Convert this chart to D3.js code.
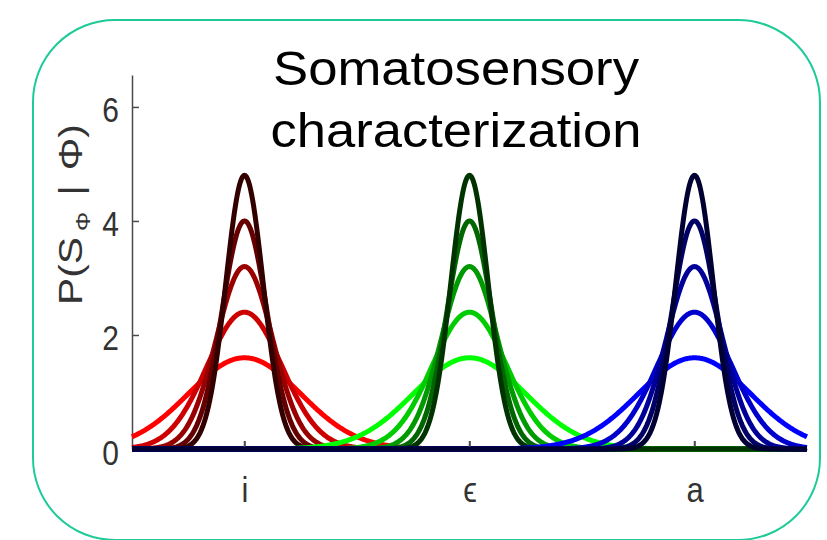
<!DOCTYPE html>
<html>
<head>
<meta charset="utf-8">
<script src="https://cdn.jsdelivr.net/npm/d3@7"></script>
<style>
  html, body { margin: 0; padding: 0; background: #ffffff; }
  svg { display: block; }
</style>
</head>
<body>
<svg id="chart" width="827" height="540"></svg>
<script>
// ---------------- data ----------------
const categories = ["i", "ϵ", "a"];
const categoryPositions = [1, 2, 3];
// peak heights of the five likelihood curves per category (light -> dark)
const peakHeights = [1.6, 2.4, 3.2, 4.0, 4.8];
const yTicks = [0, 2, 4, 6];
const titleLines = ["Somatosensory", "characterization"];

// ---------------- styles ----------------
const palettes = [
  ["#ff0000", "#cc0000", "#990000", "#660000", "#330000"],
  ["#00ff00", "#00cc00", "#009900", "#006600", "#003300"],
  ["#0000ff", "#0000cc", "#000099", "#000066", "#000033"]
];
const FONT = "'Liberation Sans', Arial, 'DejaVu Sans', sans-serif";

const svg = d3.select("#chart");

// rounded frame
svg.append("rect")
  .attr("x", 33).attr("y", 20)
  .attr("width", 787).attr("height", 520)
  .attr("rx", 82).attr("ry", 82)
  .attr("fill", "none")
  .attr("stroke", "#1ecb98")
  .attr("stroke-width", 2);

// title
svg.append("g").selectAll("text")
  .data(titleLines)
  .join("text")
  .attr("x", 456)
  .attr("y", (d, i) => 85 + i * 62)
  .attr("text-anchor", "middle")
  .attr("font-family", FONT)
  .attr("font-size", 49)
  .attr("fill", "#000")
  .attr("textLength", (d, i) => i === 0 ? 366 : 371)
  .attr("lengthAdjust", "spacingAndGlyphs")
  .text(d => d);

// scales
const x = d3.scaleLinear().domain([0.5, 3.5]).range([132, 807]);
const y = d3.scaleLinear().domain([0, 6.56]).range([449, 75]);

// axes
const axisColor = "#4a4a4a";
const textColor = "#333333";

const yAxis = d3.axisLeft(y)
  .tickValues(yTicks)
  .tickSize(-7)
  .tickSizeOuter(0)
  .tickFormat(d3.format("d"));

const gy = svg.append("g")
  .attr("transform", `translate(${x.range()[0]},0)`)
  .call(yAxis);
gy.select(".domain").attr("stroke", axisColor).attr("stroke-width", 1.5);
gy.selectAll(".tick line").attr("stroke", axisColor).attr("stroke-width", 1.5);
gy.selectAll(".tick text")
  .attr("x", 0).attr("dy", null).attr("y", 0)
  .attr("transform", "translate(-13,15) scale(1,1.15)")
  .attr("text-anchor", "end")
  .attr("font-family", FONT)
  .attr("font-size", 30)
  .attr("fill", textColor);

const xAxis = d3.axisBottom(x)
  .tickValues(categoryPositions)
  .tickFormat((d, i) => categories[i])
  .tickSize(-8)
  .tickSizeOuter(0);

const gx = svg.append("g")
  .attr("transform", `translate(0,${y(0)})`)
  .call(xAxis);
gx.select(".domain").attr("stroke", axisColor).attr("stroke-width", 1.5);
gx.selectAll(".tick line").attr("stroke", axisColor).attr("stroke-width", 1.5);
gx.selectAll(".tick text")
  .attr("y", 0).attr("dy", null)
  .attr("transform", "translate(0,53) scale(1,1.15)")
  .attr("text-anchor", "middle")
  .attr("font-family", FONT)
  .attr("font-size", 31)
  .attr("fill", textColor);

// y-axis label  P(S_Φ | Φ)
const ylab = svg.append("text")
  .attr("transform", "translate(82,305) rotate(-90) scale(1.2,1)")
  .attr("font-family", FONT)
  .attr("font-size", 34)
  .attr("fill", textColor);
ylab.append("tspan").text("P(S");
ylab.append("tspan").attr("dx", 5).attr("dy", 8).attr("font-size", 20).text("Φ");
ylab.append("tspan").attr("dx", 4).attr("dy", -8).text(" |");
ylab.append("tspan").attr("dx", 3).text(" Φ)");

// likelihood curves: Gaussian densities centred on each category,
// height, width from the density normalisation
const xs = d3.range(x.domain()[0], x.domain()[1] + 1e-9, 0.004);
const line = d3.line()
  .x(d => x(d[0]))
  .y(d => y(d[1]));

const curves = svg.append("g");
categoryPositions.forEach((mu, ci) => {
  peakHeights.forEach((peak, k) => {
    const sigma = 1 / (peak * Math.sqrt(2 * Math.PI));
    const pts = xs.map(v => [v, peak * Math.exp(-0.5 * ((v - mu) / sigma) ** 2)]);
    curves.append("path")
      .datum(pts)
      .attr("d", line)
      .attr("fill", "none")
      .attr("stroke", palettes[ci][k])
      .attr("stroke-width", 5)
      .attr("stroke-linejoin", "round");
  });
});

// x tick marks drawn above the curve band
svg.append("g")
  .selectAll("line")
  .data(categoryPositions)
  .join("line")
  .attr("x1", d => x(d)).attr("x2", d => x(d))
  .attr("y1", y(0) - 8).attr("y2", y(0) - 2)
  .attr("stroke", axisColor)
  .attr("stroke-width", 1.5);
</script>
</body>
</html>
